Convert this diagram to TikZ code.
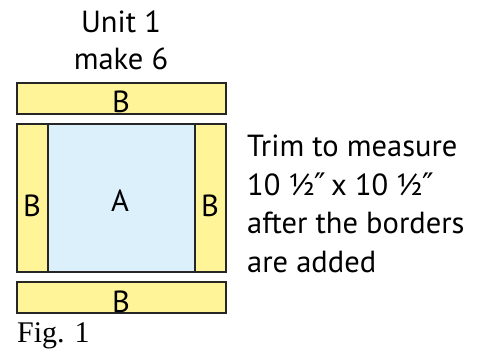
\documentclass[tikz,border=0pt]{standalone}
\usepackage{fontspec}
\setmainfont{PT Sans}
\newfontfamily\figfont{Liberation Serif}
\newfontfamily\symfont{DejaVu Sans}
\usepackage{xcolor}
\definecolor{Col1}{RGB}{255,245,152}
\definecolor{Col2}{RGB}{219,240,251}
\usepackage{tikz}
\newcommand{\inch}{{\symfont\fontsize{31}{36}\selectfont ″}}
\tikzstyle{Strip}=[draw=black!85,fill=Col1,line width=1.2pt]
\tikzstyle{Square}=[draw=black!85,fill=Col2,line width=1.2pt]
\tikzstyle{Label}=[font=\fontsize{30.5}{36}\selectfont,inner sep=0pt,anchor=base]
\tikzstyle{Note}=[font=\fontsize{30.5}{38.5}\selectfont,inner sep=0pt,
align=left,anchor=base west]

\begin{document}
\begin{tikzpicture}[x=1pt,y=-1pt]
        \useasboundingbox(0,0)rectangle(478,350);
        % strips and centre square
        \draw[Strip](17,83)rectangle(226,114);
        \draw[Square](48,124)rectangle(195,272);
        \draw[Strip](17,124)rectangle(48,272);
        \draw[Strip](195,124)rectangle(226,272);
        \draw[Strip](17,282)rectangle(226,313);
        % labels
        \node[Label](title)at(121,33){Unit 1};
        \node[Label](make)at(121,70){make 6};
        \node[Label](btop)at(121,112){B};
        \node[Label](a)at(120,211){A};
        \node[Label](bleft)at(32,216){B};
        \node[Label](bright)at(210,216){B};
        \node[Label](bbot)at(121,312){B};
        \node[Note](trim)at(247,272)
                {Trim to measure\\10 ½\inch\,x 10 ½\inch\\after the borders\\are added};
        \node[Label,anchor=base west,font=\figfont\fontsize{30}{36}\selectfont]
                (fig)at(17,342){Fig. 1};
    \end{tikzpicture}
\end{document}
